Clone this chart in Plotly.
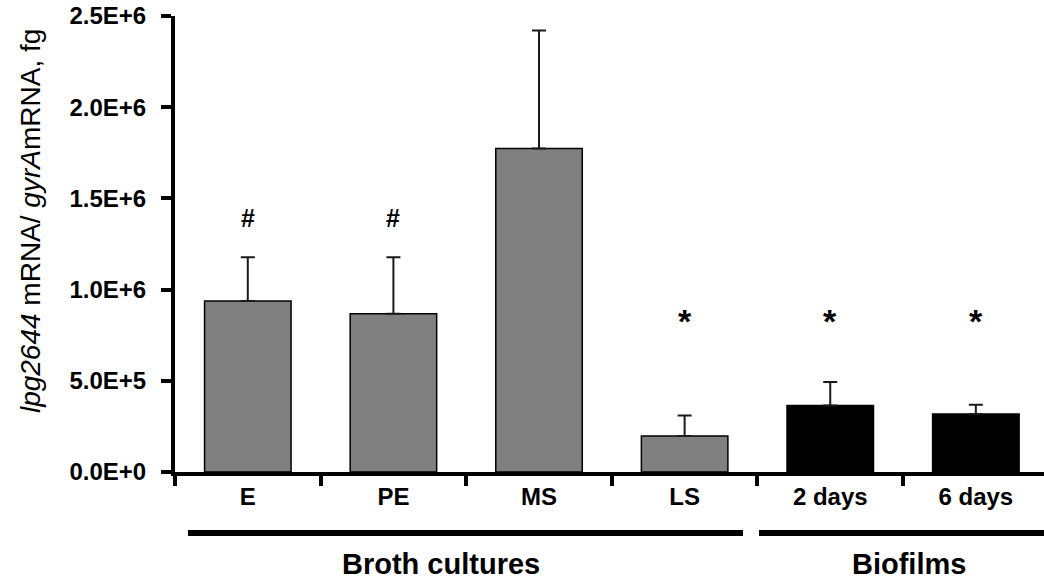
import plotly.graph_objects as go

categories = ["E", "PE", "MS", "LS", "2 days", "6 days"]
values = [938000, 868000, 1773000, 198000, 365000, 318000]
errors_plus = [239000, 309000, 647000, 112000, 129000, 51000]
bar_colors = ["#808080", "#808080", "#808080", "#808080", "#000000", "#000000"]
signif_marks = ["#", "#", "", "*", "*", "*"]
tick_vals = [0, 500000, 1000000, 1500000, 2000000, 2500000]
tick_text = ["0.0E+0", "5.0E+5", "1.0E+6", "1.5E+6", "2.0E+6", "2.5E+6"]
groups = ["Broth cultures", "Biofilms"]

FONT = "Arial, Liberation Sans, sans-serif"

fig = go.Figure()
fig.add_trace(go.Bar(
    x=categories, y=values,
    marker=dict(color=bar_colors, line=dict(color="#000000", width=1.5)),
    width=0.594,
    error_y=dict(type="data", array=errors_plus, symmetric=False,
                 arrayminus=[0] * len(values), color="#1a1a1a",
                 thickness=2, width=7),
    showlegend=False,
))

annotations = []
for cat, mark in zip(categories, signif_marks):
    if not mark:
        continue
    if mark == "#":
        annotations.append(dict(x=cat, y=1393000, xref="x", yref="y", text="<b>#</b>",
                                showarrow=False, font=dict(family=FONT, size=25, color="#000"),
                                yanchor="middle"))
    else:
        annotations.append(dict(x=cat, y=830000, xref="x", yref="y", text="<b>*</b>",
                                showarrow=False, font=dict(family=FONT, size=34, color="#000"),
                                yanchor="middle"))

# group labels
annotations.append(dict(x=1.327, y=-0.202, xref="x", yref="paper", text="<b>" + groups[0] + "</b>",
                        showarrow=False, font=dict(family=FONT, size=29, color="#000"),
                        xanchor="center", yanchor="middle"))
annotations.append(dict(x=4.541, y=-0.202, xref="x", yref="paper", text="<b>" + groups[1] + "</b>",
                        showarrow=False, font=dict(family=FONT, size=29, color="#000"),
                        xanchor="center", yanchor="middle"))
# y-axis title
annotations.append(dict(x=-0.167, y=0.55, xref="paper", yref="paper",
                        text="<i>lpg2644</i> mRNA/ <i>gyrA</i>mRNA, fg",
                        textangle=-90, showarrow=False,
                        font=dict(family=FONT, size=28, color="#000"),
                        xanchor="center", yanchor="middle"))

shapes = [
    dict(type="line", xref="x", yref="paper", x0=-0.411, x1=3.401, y0=-0.134, y1=-0.134,
         line=dict(color="#000", width=6)),
    dict(type="line", xref="x", yref="paper", x0=3.511, x1=5.468, y0=-0.134, y1=-0.134,
         line=dict(color="#000", width=6)),
]

fig.update_layout(
    width=1044, height=583,
    margin=dict(l=175, r=0, t=16, b=111),
    plot_bgcolor="white", paper_bgcolor="white",
    annotations=annotations, shapes=shapes,
    font=dict(family=FONT, color="#000"),
    xaxis=dict(
        range=[-0.5, 5.468], showline=True, linecolor="#000", linewidth=4,
        ticks="outside", tickson="boundaries", ticklen=10, tickwidth=4, tickcolor="#000",
        tickfont=dict(family=FONT, size=24, color="#000"),
        tickvals=categories, ticktext=["<b>%s</b>" % c for c in categories],
        showgrid=False, zeroline=False, fixedrange=True,
    ),
    yaxis=dict(
        range=[0, 2500000], showline=True, linecolor="#000", linewidth=4,
        ticks="outside", ticklen=10, tickwidth=4, tickcolor="#000",
        tickvals=tick_vals, ticktext=["<b>%s</b>" % t for t in tick_text],
        tickfont=dict(family=FONT, size=24, color="#000"),
        showgrid=False, zeroline=False, ticklabelstandoff=10,
        ticklabeloverflow="allow",
    ),
)

# remove the default 8px page margin so the figure fills the window exactly
fig.write_html("out.html", config={"displayModeBar": False},
               post_script="document.body.style.margin='0';document.body.style.overflow='hidden';")
